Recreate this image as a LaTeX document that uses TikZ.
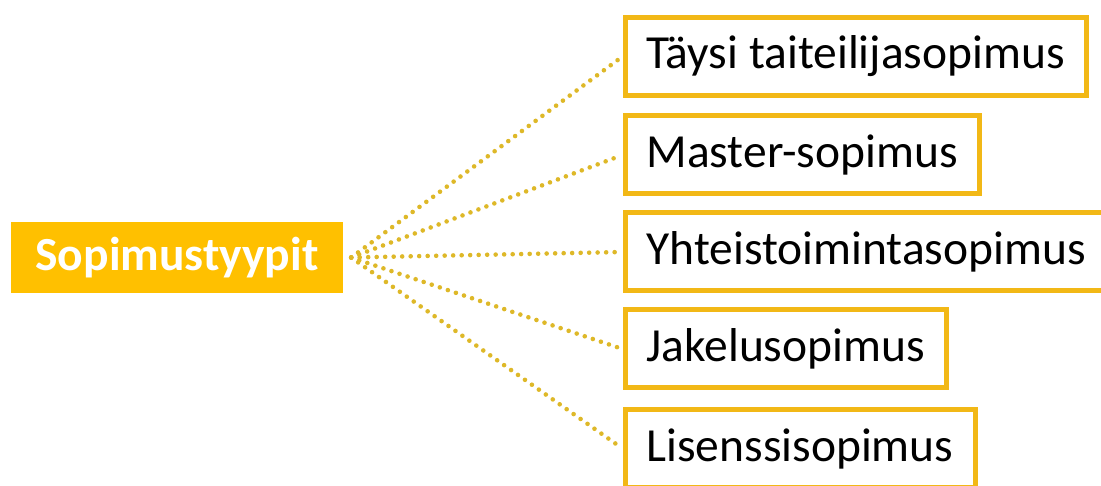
\documentclass[tikz,border=0pt]{standalone}
\usepackage{fontspec}
\setmainfont{Carlito}
\usepackage{tikz}
\definecolor{KultaKelta}{RGB}{255, 192,   0}
\definecolor{ReunaKelta}{RGB}{242, 184,  22}
\definecolor{PisteKelta}{RGB}{222, 184,  40}

\begin{document}
\begin{tikzpicture}[x=1pt, y=-1pt,
    juuri/.style={fill=KultaKelta, text=white, font=\fontsize{47.5}{56}\selectfont\bfseries,
      minimum width=332pt, minimum height=71pt, inner sep=0pt},
    sopbox/.style={draw=ReunaKelta, line width=5pt, fill=white, anchor=west,
      font=\fontsize{47.5}{56}\selectfont, inner xsep=21.5pt, inner ysep=0pt,
      minimum height=78pt},
    pisteet/.style={PisteKelta, line width=4.6pt, line cap=round,
      dash pattern=on 0pt off 8.5pt, shorten >=5pt}]
  \useasboundingbox (0,0) rectangle (1101,486);

  \node[juuri] (tyypit) at (177,257.5) {Sopimustyypit};

  \node[sopbox] (taysi)    at (622.5, 56.5) {Täysi taiteilijasopimus};
  \node[sopbox] (master)   at (622.5,155)   {Master-sopimus};
  \node[sopbox] (yhteis)   at (622.5,252)   {Yhteistoimintasopimus};
  \node[sopbox] (jakelu)   at (622.5,349)   {Jakelusopimus};
  \node[sopbox] (lisenssi) at (622.5,448.5) {Lisenssisopimus};

  \foreach \kohde in {taysi, master, yhteis, jakelu, lisenssi}
    \draw[pisteet] ([xshift=8pt]tyypit.east) -- (\kohde.west);
\end{tikzpicture}
\end{document}
